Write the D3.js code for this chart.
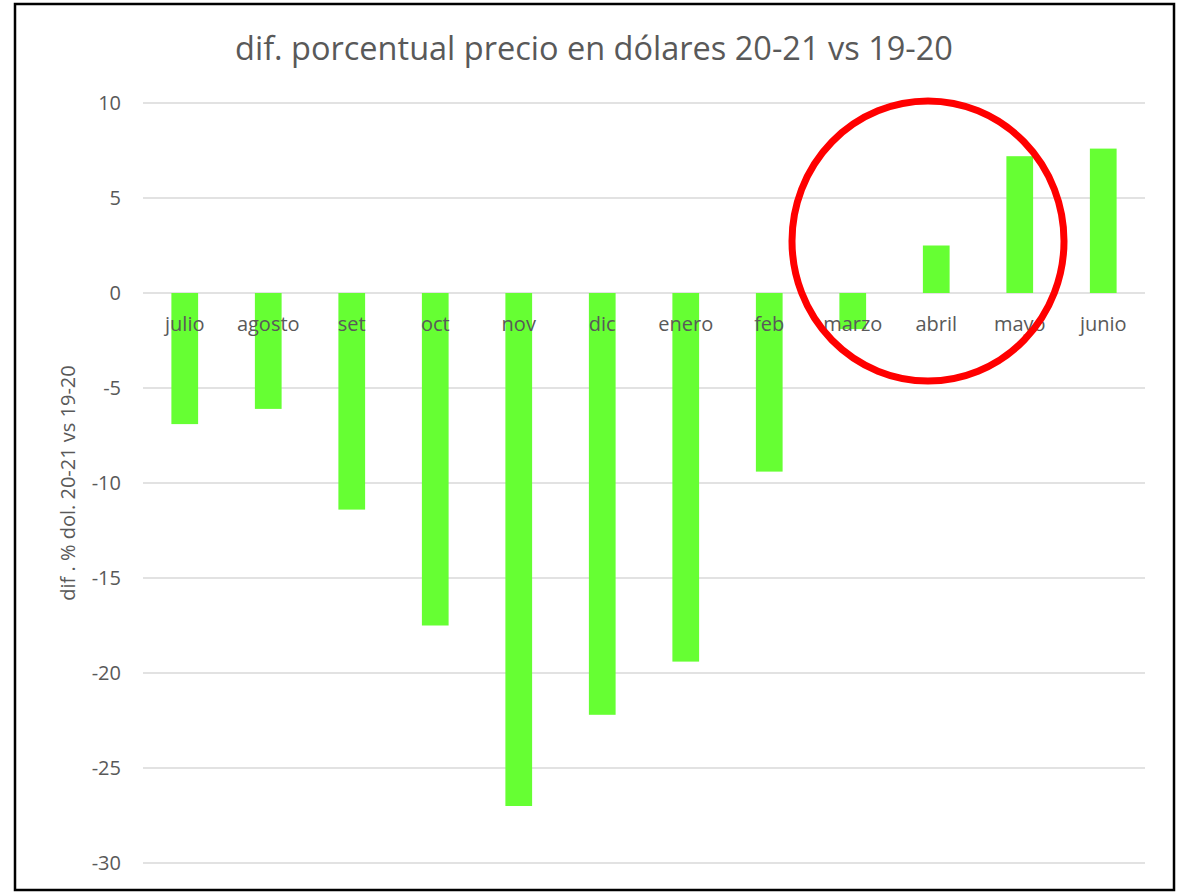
<!DOCTYPE html>
<html>
<head>
<meta charset="utf-8">
<script src="https://cdn.jsdelivr.net/npm/d3@7"></script>
<style>
  body { margin: 0; background: #fff; }
  text { font-family: "Open Sans", "Liberation Sans", sans-serif; fill: #595959; }
</style>
</head>
<body>
<div id="chart"></div>
<script>
const months = ['julio', 'agosto', 'set', 'oct', 'nov', 'dic', 'enero', 'feb', 'marzo', 'abril', 'mayo', 'junio'];
const difValues = [-6.9, -6.1, -11.4, -17.5, -27.0, -22.2, -19.4, -9.4, -1.9, 2.5, 7.2, 7.6];
const yTicks = [10, 5, 0, -5, -10, -15, -20, -25, -30];

const width = 1183, height = 894;
const margin = { top: 103, right: 38, bottom: 31, left: 143 };

const svg = d3.select('#chart')
  .append('svg')
    .attr('width', width)
    .attr('height', height);

// outer frame
svg.append('rect')
  .attr('x', 15).attr('y', 4)
  .attr('width', 1159).attr('height', 886)
  .attr('fill', 'white')
  .attr('stroke', '#000')
  .attr('stroke-width', 2.5);

const x = d3.scaleBand()
  .domain(months)
  .range([margin.left, width - margin.right])
  .paddingInner(0.68)
  .paddingOuter(0.34);

const y = d3.scaleLinear()
  .domain([-30, 10])
  .range([height - margin.bottom, margin.top]);

// gridlines
svg.append('g')
  .selectAll('line')
  .data(yTicks)
  .enter()
  .append('line')
    .attr('x1', margin.left)
    .attr('x2', width - margin.right)
    .attr('y1', d => y(d))
    .attr('y2', d => y(d))
    .attr('stroke', '#d9d9d9')
    .attr('stroke-width', 1.5);

// y axis labels (plain hyphen minus like the original)
const yAxis = d3.axisLeft(y).tickValues(yTicks).tickSize(0).tickPadding(0)
  .tickFormat(d => String(d));
const gy = svg.append('g')
  .attr('transform', 'translate(' + (margin.left - 22) + ',0)')
  .call(yAxis);
gy.select('.domain').remove();
gy.selectAll('text')
  .style('font-size', '20px')
  .attr('fill', '#595959');

// bars
svg.append('g')
  .selectAll('rect')
  .data(months)
  .enter()
  .append('rect')
    .attr('x', d => x(d))
    .attr('width', x.bandwidth())
    .attr('y', (d, i) => y(Math.max(0, difValues[i])))
    .attr('height', (d, i) => Math.abs(y(difValues[i]) - y(0)))
    .attr('fill', '#66ff33');

// category labels sit just under the zero line, on top of bars
svg.append('g')
  .selectAll('text')
  .data(months)
  .enter()
  .append('text')
    .attr('x', d => x(d) + x.bandwidth() / 2)
    .attr('y', y(0) + 38)
    .attr('text-anchor', 'middle')
    .style('font-size', '20px')
    .text(d => d);

// title
svg.append('text')
  .attr('x', 594)
  .attr('y', 60)
  .attr('text-anchor', 'middle')
  .style('font-size', '32.5px')
  .text('dif. porcentual precio en dólares 20-21 vs 19-20');

// y axis title
svg.append('text')
  .attr('transform', 'translate(75,' + y(-10) + ') rotate(-90)')
  .attr('text-anchor', 'middle')
  .style('font-size', '20px')
  .text('dif . % dol. 20-21 vs 19-20');

// red highlight circle
svg.append('ellipse')
  .attr('cx', 928)
  .attr('cy', 241)
  .attr('rx', 136)
  .attr('ry', 140)
  .attr('fill', 'none')
  .attr('stroke', '#ff0000')
  .attr('stroke-width', 7);
</script>
</body>
</html>
